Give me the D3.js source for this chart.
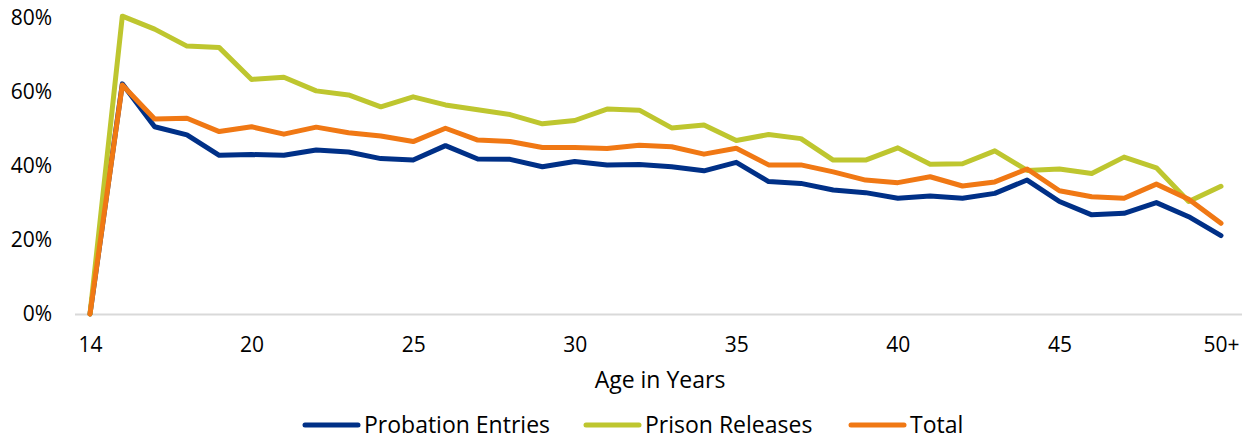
<!DOCTYPE html>
<html><head><meta charset="utf-8">
<script src="https://cdn.jsdelivr.net/npm/d3@7"></script>
<style>body{margin:0;background:#fff}svg{display:block}text{font-family:"Open Sans",sans-serif;fill:#000}</style>
</head><body><svg id="c" width="1250" height="441"></svg>
<script>
const ages = ["14","16","17","18","19","20","21","22","23","24","25","26","27","28","29","30","31","32","33","34","35","36","37","38","39","40","41","42","43","44","45","46","47","48","49","50+"];
const tickLabels = ["14","20","25","30","35","40","45","50+"];
const yTicks = [0,0.2,0.4,0.6,0.8];
const probation = [0,62.2,50.6,48.4,42.9,43.1,42.9,44.3,43.8,42.0,41.6,45.5,41.9,41.8,39.8,41.2,40.3,40.4,39.8,38.7,41.0,35.8,35.3,33.5,32.8,31.3,31.9,31.3,32.6,36.2,30.4,26.8,27.2,30.1,26.3,21.2];
const prison = [0,80.5,77.0,72.4,72.0,63.4,64.0,60.3,59.2,56.0,58.7,56.5,55.2,53.9,51.4,52.3,55.4,55.1,50.3,51.1,46.9,48.5,47.4,41.6,41.6,44.9,40.5,40.6,44.1,38.8,39.2,38.0,42.4,39.5,30.4,34.5];
const total = [0,61.9,52.7,52.9,49.3,50.6,48.6,50.5,49.0,48.1,46.6,50.2,47.0,46.6,45.0,45.0,44.7,45.6,45.2,43.2,44.8,40.3,40.3,38.4,36.2,35.5,37.1,34.6,35.7,39.2,33.3,31.7,31.3,35.1,31.0,24.5];
const seriesNames = ["Probation Entries","Prison Releases","Total"];
const colors = ["#003087","#bec62f","#f07814"];
const FONT = "'Open Sans', sans-serif";
const FS = 21;
const FS2 = 23;

const svg = d3.select("#c");
const x = d3.scalePoint().domain(ages).range([90,1221]);
const y = d3.scaleLinear().domain([0,0.8]).range([314,18]);

// baseline
svg.append("line").attr("x1",75).attr("x2",1242).attr("y1",y(0)+0.5).attr("y2",y(0)+0.5)
  .attr("stroke","#d9d9d9").attr("stroke-width",2);

// y labels
const ya = svg.append("g").attr("transform","translate(52,0)")
  .call(d3.axisLeft(y).tickValues(yTicks).tickFormat(d3.format(".0%")).tickSize(0).tickPadding(0));
ya.select(".domain").remove();
ya.selectAll("text").attr("font-size",FS).attr("font-family",FONT).attr("fill","#000");

// x labels
const xa = svg.append("g").attr("transform","translate(0,337)")
  .call(d3.axisBottom(x).tickValues(tickLabels).tickSize(0).tickPadding(0));
xa.select(".domain").remove();
xa.selectAll("text").attr("font-size",FS).attr("font-family",FONT).attr("fill","#000").attr("dy","0.71em");

svg.append("text").attr("x",660).attr("y",388).attr("text-anchor","middle").attr("font-size",FS2).text("Age in Years");

const data = [probation, prison, total];
const line = d3.line().x((d,i)=>x(ages[i])).y(d=>y(d/100));
data.forEach((s,k)=>{
  svg.append("path").datum(s).attr("d",line).attr("fill","none")
    .attr("stroke",colors[k]).attr("stroke-width",5).attr("stroke-linejoin","round").attr("stroke-linecap","round");
});

// legend
const legX = [305,586,851];
seriesNames.forEach((n,k)=>{
  const g = svg.append("g").attr("transform",`translate(${legX[k]},425)`);
  g.append("line").attr("x1",0).attr("x2",53).attr("stroke",colors[k]).attr("stroke-width",5).attr("stroke-linecap","round");
  g.append("text").attr("x",59).attr("dy","0.35em").attr("font-size",FS2).text(n);
});
</script></body></html>
